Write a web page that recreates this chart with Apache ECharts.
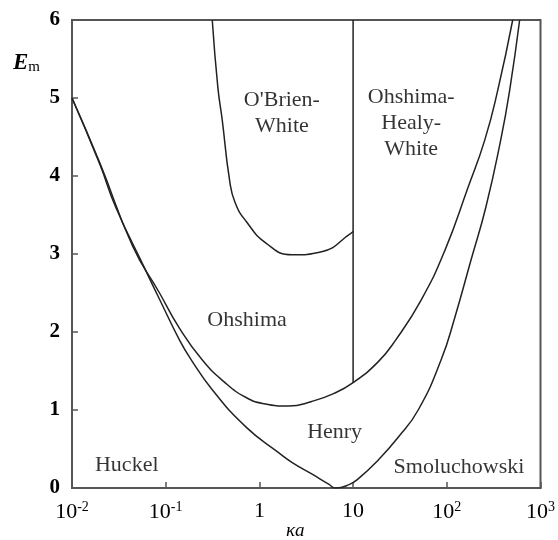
<!DOCTYPE html>
<html>
<head>
<meta charset="utf-8">
<script src="https://cdn.jsdelivr.net/npm/echarts@6/dist/echarts.min.js"></script>
<style>html,body{margin:0;padding:0;background:#fff}#c{width:558px;height:540px}</style>
</head>
<body>
<div id="c"></div>
<script>
// ---- data (ka, E_m) ----
const henryCurve = [
  [0.01, 5.0], [0.0198, 4.15], [0.0293, 3.6], [0.0611, 2.79], [0.0859, 2.42],
  [0.140, 1.90], [0.188, 1.64], [0.314, 1.26], [0.721, 0.78], [1.615, 0.45],
  [2.22, 0.33], [3.62, 0.18], [5.48, 0.05], [6.5, 0.0], [8.94, 0.04],
  [11.4, 0.12], [18.6, 0.36], [30.3, 0.65], [49.5, 1.0], [86.8, 1.64],
  [122, 2.19], [181, 2.92], [261, 3.6], [376, 4.46], [469, 5.1], [599, 6.0]
];
const ohshimaCurve = [
  [0.01, 5.0], [0.0198, 4.17], [0.0444, 3.1], [0.0859, 2.5], [0.140, 2.05],
  [0.246, 1.64], [0.421, 1.36], [0.721, 1.16], [1.12, 1.08], [2.06, 1.05],
  [3.62, 1.11], [6.19, 1.21], [10.0, 1.35], [18.6, 1.62], [28.2, 1.89],
  [53.2, 2.41], [95.7, 3.05], [168, 3.85], [254, 4.46], [350, 5.1], [505, 6.0]
];
const obrienWhiteCurve = [
  [0.314, 6.0], [0.36, 5.14], [0.401, 4.72], [0.48, 3.95], [0.55, 3.66],
  [0.721, 3.42], [1.175, 3.14], [2.22, 2.99], [4.62, 3.03], [9.62, 3.27], [10.0, 3.29]
];
const boundaryLine = [[10, 1.35], [10, 6.0]];

const regionLabels = [
  { name: 'Huckel', value: [0.0384, 0.295] },
  { name: 'Henry', value: [6.35, 0.718] },
  { name: 'Smoluchowski', value: [134.8, 0.27] },
  { name: 'Ohshima', value: [0.739, 2.154] },
  { name: "O'Brien-\nWhite", value: [1.738, 4.81] },
  { name: 'Ohshima-\nHealy-\nWhite', value: [41.7, 4.68] }
];

const xTickValues = [0.01, 0.1, 1, 10, 100, 1000];
const xTickBase = ['10', '10', '1', '10', '10', '10'];
const xTickExp = ['-2', '-1', '', '', '2', '3'];
const yTicks = [0, 1, 2, 3, 4, 5, 6];

const SERIF = '"Liberation Serif","DejaVu Serif","Times New Roman",serif';
const INK = '#000';
const AXIS = '#555';

const chart = echarts.init(document.getElementById('c'), null, { renderer: 'canvas' });

function lineSeries(data) {
  return {
    type: 'line', data: data, showSymbol: false, smooth: 0.5,
    lineStyle: { color: '#222', width: 1.5 }, silent: true, animation: false, z: 3
  };
}

chart.setOption({
  animation: false,
  backgroundColor: '#fff',
  grid: { left: 72, right: 15, top: 20, bottom: 52, show: true, borderColor: AXIS, borderWidth: 2, backgroundColor: 'transparent' },
  xAxis: {
    type: 'log', logBase: 10, min: 0.01, max: 1000, splitNumber: 5,
    axisLine: { show: true, lineStyle: { color: AXIS, width: 2 } },
    axisTick: { show: true, inside: true, length: 6, lineStyle: { color: AXIS, width: 1.5 } },
    splitLine: { show: false },
    minorTick: { show: false },
    axisLabel: {
      show: true, margin: 12, showMinLabel: true, showMaxLabel: true,
      formatter: function (v) {
        const e = Math.round(Math.log10(v));
        const i = xTickValues.findIndex(function (t) { return Math.round(Math.log10(t)) === e; });
        if (i < 0) return '';
        return xTickExp[i] ? '{b|' + xTickBase[i] + '}{s|' + xTickExp[i] + '}' : '{b|' + xTickBase[i] + '}';
      },
      rich: {
        b: { fontFamily: SERIF, fontSize: 22, color: INK },
        s: { fontFamily: SERIF, fontSize: 14, color: INK, padding: [0, 0, 11, 0] }
      }
    }
  },
  yAxis: {
    type: 'value', min: 0, max: 6, interval: 1,
    axisLine: { show: true, lineStyle: { color: AXIS, width: 2 } },
    axisTick: { show: true, inside: true, length: 6, lineStyle: { color: AXIS, width: 1.5 } },
    splitLine: { show: false },
    axisLabel: { margin: 12, fontFamily: SERIF, fontSize: 21, fontWeight: 'bold', color: INK,
      formatter: function (v) { return yTicks.indexOf(v) >= 0 ? String(v) : ''; } }
  },
  series: [
    lineSeries(henryCurve),
    lineSeries(ohshimaCurve),
    lineSeries(obrienWhiteCurve),
    Object.assign(lineSeries(boundaryLine), { smooth: false }),
    {
      type: 'scatter', data: regionLabels, symbolSize: 0, silent: true, z: 4,
      label: {
        show: true, position: 'inside', formatter: '{b}', fontFamily: SERIF, fontSize: 22,
        color: INK, lineHeight: 26, align: 'center', verticalAlign: 'middle'
      }
    }
  ],
  graphic: [
    { type: 'text', left: 13, top: 52, style: { text: '{e|E}{m|m}', rich: {
        e: { fontFamily: SERIF, fontSize: 23, fontStyle: 'italic', fontWeight: 'bold', fill: INK },
        m: { fontFamily: SERIF, fontSize: 15, fill: INK, padding: [8, 0, 0, 0] } } } },
    { type: 'text', left: 286, top: 521, style: { text: 'κa', fontFamily: SERIF, fontSize: 19, fontStyle: 'italic', fill: INK } }
  ]
});
</script>
</body>
</html>
